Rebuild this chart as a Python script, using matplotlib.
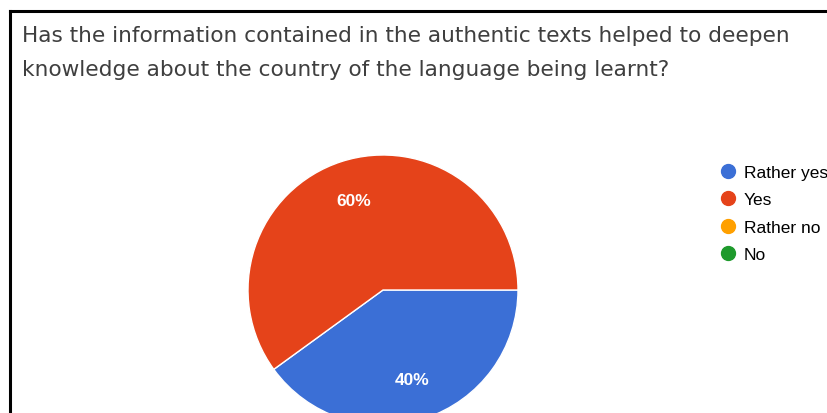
import matplotlib.pyplot as plt
from matplotlib.lines import Line2D

# survey answers
labels = ["Rather yes", "Yes", "Rather no", "No"]
shares = [40, 60, 0, 0]
colors = ["#3B6FD6", "#E5431A", "#FFA000", "#1E9A2C"]
title_lines = [
    "Has the information contained in the authentic texts helped to deepen",
    "knowledge about the country of the language being learnt?",
]


def main() -> None:
    W, H = 827, 414
    fig = plt.figure(figsize=(W / 100, H / 100), dpi=100)

    # frame lines (top and left only, rest is cropped)
    fig.add_artist(Line2D([9.5 / W, 1.0], [1 - 12 / H, 1 - 12 / H],
                          color="black", lw=2.2, transform=fig.transFigure))
    fig.add_artist(Line2D([9.5 / W, 9.5 / W], [0.0, 1 - 12 / H],
                          color="black", lw=2.2, transform=fig.transFigure))

    for i, line in enumerate(title_lines):
        fig.text(22 / W, 1 - (42 + 34 * i) / H, line, ha="left",
                 va="baseline", fontsize=15.6, family="DejaVu Sans",
                 color="#3F3F3F")

    # pie axes: centre (383, 291) px, radius 135 px
    cx, cy, r = 383, 291, 135
    ax = fig.add_axes([(cx - r) / W, (H - cy - r) / H, 2 * r / W, 2 * r / H])
    vals = [v for v in shares if v > 0]
    cols = [c for v, c in zip(shares, colors) if v > 0]
    ax.pie(vals, colors=cols, startangle=0, counterclock=False,
           autopct="%d%%", pctdistance=0.7, radius=1.0,
           wedgeprops={"edgecolor": "white", "linewidth": 1.0},
           textprops={"color": "white", "fontsize": 12.5,
                      "fontweight": "bold", "family": "Liberation Sans"})
    ax.set_xlim(-1, 1)
    ax.set_ylim(-1, 1)
    ax.set_aspect("equal")
    ax.axis("off")

    handles = [Line2D([], [], marker="o", linestyle="none", markersize=10,
                      markerfacecolor=c, markeredgecolor=c) for c in colors]
    fig.legend(handles, labels, loc="upper left",
               bbox_to_anchor=(699 / W, 1 - 150 / H), frameon=False,
               handletextpad=0.17, labelspacing=0.71, handlelength=1.5,
               prop={"family": "Liberation Sans", "size": 12.5})

    fig.savefig("out.png", dpi=100, facecolor="white")


if __name__ == "__main__":
    main()
